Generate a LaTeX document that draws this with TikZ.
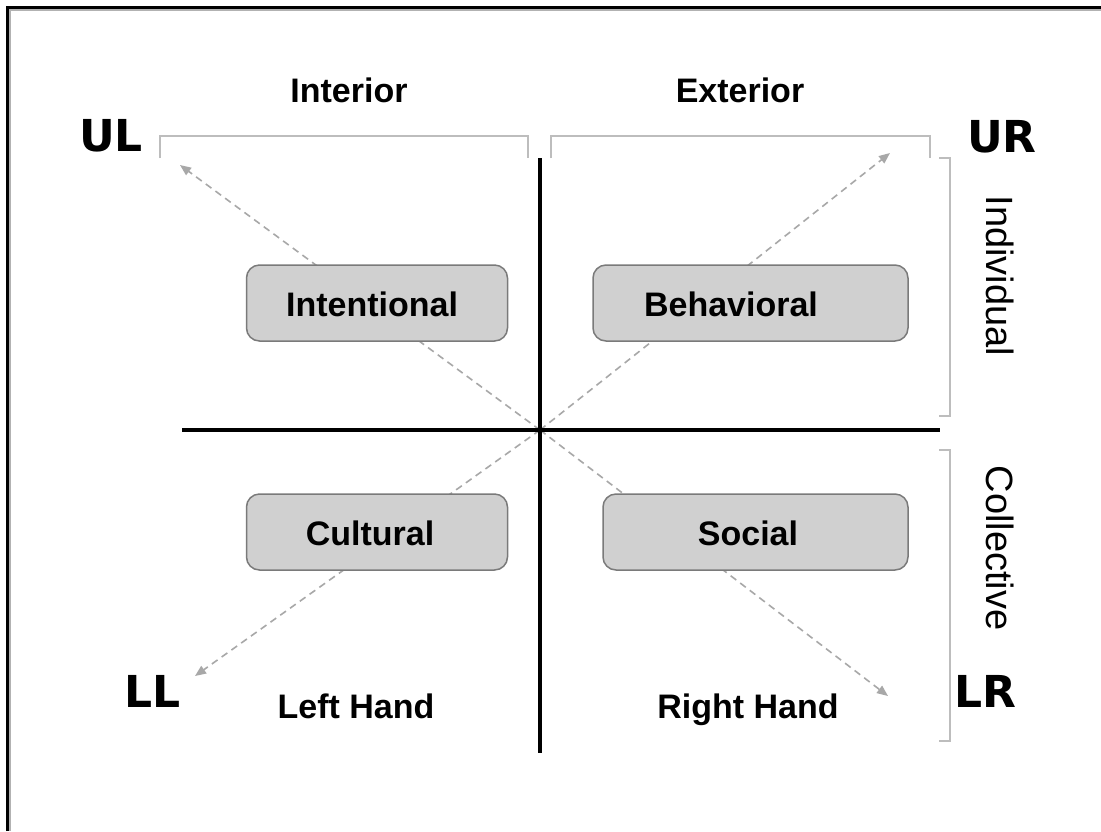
\documentclass[tikz,border=0pt]{standalone}
\usepackage{fontspec}
\setmainfont{Liberation Sans}
\newfontfamily\heavyfont{DejaVu Sans}
\usetikzlibrary{arrows.meta}
\definecolor{boxfill}{HTML}{D0D0D0}
\definecolor{boxline}{HTML}{7A7A7A}
\definecolor{brk}{HTML}{BDBDBD}
\definecolor{dashc}{HTML}{A8A8A8}
\tikzset{
  quad/.style={draw=boxline, fill=boxfill, line width=1.5pt, rounded corners=13pt, inner sep=0pt},
  qlabel/.style={font=\fontsize{34}{40}\selectfont\bfseries, inner sep=0pt, anchor=base},
  head/.style={font=\fontsize{34}{40}\selectfont\bfseries, inner sep=0pt, anchor=base},
  corner/.style={font=\fontsize{44}{50}\selectfont\heavyfont\bfseries, inner sep=0pt, anchor=base},
  side/.style={font=\fontsize{38}{44}\selectfont, inner sep=0pt, rotate=-90},
  axis/.style={line width=4pt, black},
  bracket/.style={draw=brk, line width=1.8pt},
  diag/.style={draw=dashc, line width=1.6pt, dash pattern=on 7pt off 5pt, -{Triangle[length=11pt,width=9pt]}, dashc}
}
\begin{document}
\begin{tikzpicture}[x=1pt,y=-1pt]
\useasboundingbox (0,0) rectangle (1101,831);
\fill[white] (0,0) rectangle (1101,831);
% frame
\draw[line width=3pt, black] (7,831) -- (7,7) -- (1101,7);
\draw[line width=1.5pt, gray!60] (10,831) -- (10,10) -- (1101,10);

\coordinate (o) at (540,430);
\coordinate (ul) at (180,165);
\coordinate (ur) at (890,153);
\coordinate (ll) at (195,676);
\coordinate (lr) at (888,696);

% dashed diagonals
\draw[diag] (o) -- (ul);
\draw[diag] (o) -- (ur);
\draw[diag] (o) -- (ll);
\draw[diag] (o) -- (lr);

% axes
\coordinate (vt) at (540,158);
\coordinate (vb) at (540,753);
\coordinate (hl) at (182,430);
\coordinate (hr) at (940,430);
\draw[axis] (vt) -- (vb);
\draw[axis] (hl) -- (hr);

% brackets
\draw[bracket] (160,158) -- (160,136) -- (528,136) -- (528,158);
\draw[bracket] (551,158) -- (551,136) -- (930,136) -- (930,158);
\draw[bracket] (939,158) -- (950,158) -- (950,416) -- (939,416);
\draw[bracket] (939,450) -- (950,450) -- (950,741) -- (939,741);

% boxes
\node[quad, minimum width=261pt, minimum height=76pt] (bi) at (377,303) {};
\node[quad, minimum width=315pt, minimum height=76pt] (bb) at (750.5,303) {};
\node[quad, minimum width=261pt, minimum height=76pt] (bc) at (377,532) {};
\node[quad, minimum width=305pt, minimum height=76pt] (bs) at (755.5,532) {};
\node[qlabel] (ti) at (372,316) {Intentional};
\node[qlabel] (tb) at (731,316) {Behavioral};
\node[qlabel] (tc) at (370,545) {Cultural};
\node[qlabel] (ts) at (748,545) {Social};

% headings
\node[head] (hi) at (349,102) {Interior};
\node[head] (he) at (740,102) {Exterior};
\node[head] (lh) at (356,718) {Left Hand};
\node[head] (rh) at (748,718) {Right Hand};
\node[corner] (cul) at (111,151) {UL};
\node[corner] (cur) at (1002,152) {UR};
\node[corner] (cll) at (153,707) {LL};
\node[corner] (clr) at (985,707) {LR};
\node[side] (si) at (1000,276) {Individual};
\node[side] (sc) at (1000,548) {Collective};
\end{tikzpicture}
\end{document}
